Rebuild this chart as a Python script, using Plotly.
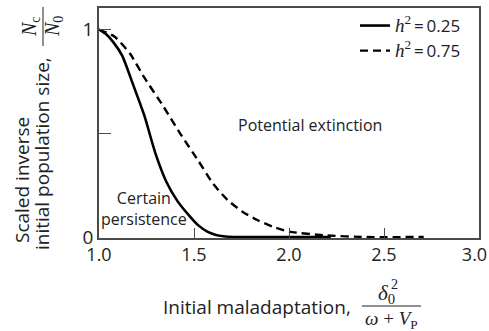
import plotly.graph_objects as go

# ---- data ----
x_h025 = [1.0, 1.035, 1.076, 1.122, 1.180, 1.238, 1.297, 1.355, 1.413, 1.471, 1.523, 1.570, 1.616, 1.709, 1.85, 2.0, 2.22]
y_h025 = [1.0, 0.979, 0.938, 0.874, 0.733, 0.587, 0.403, 0.265, 0.173, 0.107, 0.056, 0.026, 0.010, 0.0, 0.0, 0.0, 0.0]

x_h075 = [1.0, 1.081, 1.163, 1.238, 1.337, 1.430, 1.523, 1.602, 1.676, 1.755, 1.833, 1.926, 2.0, 2.187, 2.407, 2.709]
y_h075 = [1.0, 0.966, 0.884, 0.769, 0.632, 0.495, 0.367, 0.255, 0.179, 0.122, 0.082, 0.046, 0.026, 0.008, 0.0, 0.0]

x_tickvals = [1.0, 1.5, 2.0, 2.5, 3.0]
x_ticktext = ["1.0", "1.5", "2.0", "2.5", "3.0\u2002"]
y_tickvals = [0, 0.5, 1]
y_ticktext = ["0", "", "1"]

SANS = "Open Sans"
SERIF = "Liberation Serif"
AX = "#4a4a4a"
TXT = "#222"

W, H = 489, 331
L, R, T, B = 99, 479, 8, 238


def px(x):
    return (x - L) / (R - L)


def py(y):
    return (B - y) / (B - T)


h = "<span style='font-family:%s;font-size:19px'><i>h</i><sup>2</sup></span>" % SERIF

fig = go.Figure()
fig.add_trace(go.Scatter(x=x_h025, y=y_h025, mode="lines", name=h + "\u2009=\u20090.25",
                         line=dict(color="black", width=2.6, shape="spline", smoothing=0.6)))
fig.add_trace(go.Scatter(x=x_h075, y=y_h075, mode="lines", name=h + "\u2009=\u20090.75",
                         line=dict(color="black", width=2.4, dash="8px,5px", shape="spline", smoothing=0.6)))

fig.update_layout(
    width=W, height=H,
    margin=dict(l=L, r=W - R, t=T, b=H - B, autoexpand=False),
    paper_bgcolor="white", plot_bgcolor="white",
    font=dict(family=SANS, size=18, color=TXT),
    showlegend=True,
    legend=dict(x=px(466), y=py(8), xanchor="right", yanchor="top",
                bgcolor="rgba(0,0,0,0)", font=dict(size=17, family=SANS, color=TXT),
                itemwidth=30, tracegroupgap=0),
    xaxis=dict(range=[1.0, 3.0], tickvals=x_tickvals, ticktext=x_ticktext,
               ticks="inside", ticklen=10, tickwidth=1.2, tickcolor=AX,
               showline=True, linecolor=AX, linewidth=1.5, mirror=True,
               ticklabeloverflow="allow", automargin=False,
               showgrid=False, zeroline=False, tickfont=dict(size=18, family=SANS, color=TXT)),
    yaxis=dict(range=[-0.0048, 1.1036], tickvals=y_tickvals, ticktext=y_ticktext,
               ticks="inside", ticklen=12, tickwidth=1.2, tickcolor=AX,
               showline=True, linecolor=AX, linewidth=1.5, mirror=True, automargin=False,
               showgrid=False, zeroline=False, tickfont=dict(size=19, family=SANS, color=TXT)),
)

ann = []
# region labels
ann.append(dict(x=px(310), y=py(125), text="Potential extinction", font=dict(size=16, family=SANS, color=TXT)))
ann.append(dict(x=px(144), y=py(208), text="Certain<br>persistence", font=dict(size=16, family=SANS, color=TXT)))
# x title
ann.append(dict(x=px(257), y=py(307), text="Initial maladaptation,", font=dict(size=19, family=SANS, color=TXT)))
ann.append(dict(x=px(386), y=py(294), text="<i>δ</i><sub>0</sub>", font=dict(size=21, family=SERIF, color=TXT)))
ann.append(dict(x=px(394), y=py(284), text="2", font=dict(size=14, family=SERIF, color=TXT)))
ann.append(dict(x=px(391), y=py(320), text="<i>ω</i> + <i>V</i><sub>P</sub>", font=dict(size=19, family=SERIF, color=TXT)))
# y title
ann.append(dict(x=px(22), y=py(180), text="Scaled inverse", textangle=-90, font=dict(size=19, family=SANS, color=TXT)))
ann.append(dict(x=px(42), y=py(154), text="initial population size,", textangle=-90, font=dict(size=19, family=SANS, color=TXT)))
ann.append(dict(x=px(31), y=py(27), text="<i>N</i><sub>c</sub>", textangle=-90, font=dict(size=20, family=SERIF, color=TXT)))
ann.append(dict(x=px(54), y=py(27), text="<i>N</i><sub>0</sub>", textangle=-90, font=dict(size=20, family=SERIF, color=TXT)))

for a in ann:
    a.update(xref="paper", yref="paper", showarrow=False, xanchor="center", yanchor="middle")
fig.update_layout(annotations=ann)

shapes = [
    dict(type="line", xref="paper", yref="paper", x0=px(362), x1=px(421), y0=py(306), y1=py(306),
         line=dict(color=TXT, width=1)),
    dict(type="line", xref="paper", yref="paper", x0=px(43), x1=px(43), y0=py(7), y1=py(46),
         line=dict(color=TXT, width=1)),
]
fig.update_layout(shapes=shapes)

fig.write_html("out.html")
